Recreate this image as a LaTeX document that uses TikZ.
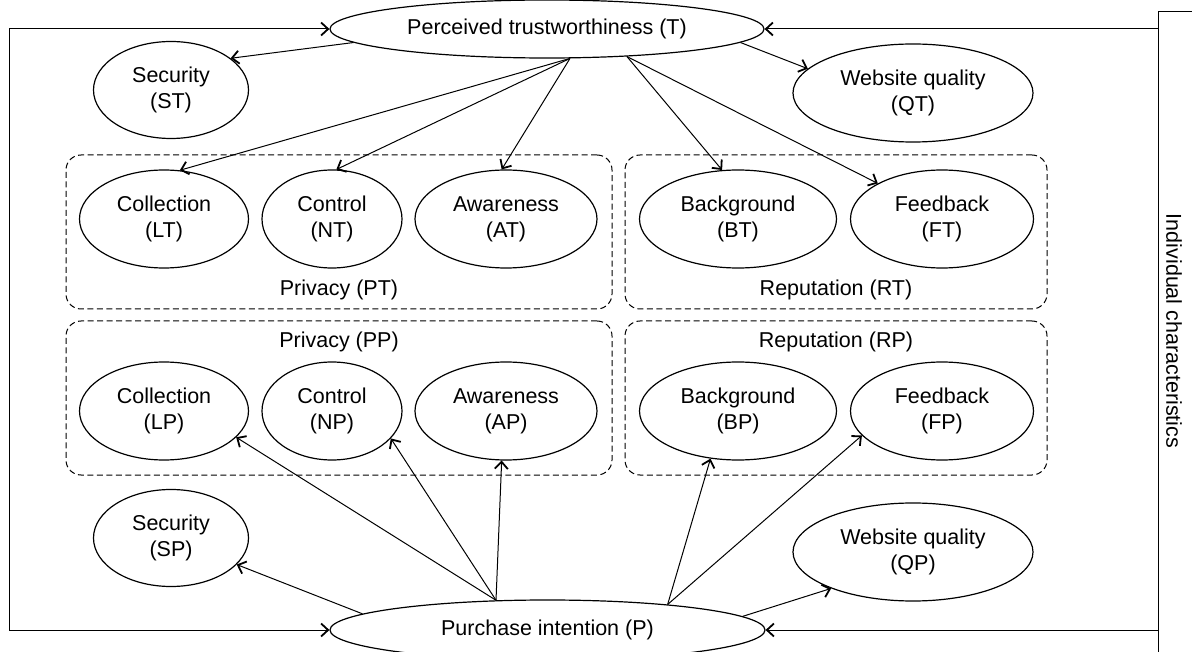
\documentclass[tikz,border=0pt]{standalone}
\usepackage{fontspec}
\setmainfont{Liberation Sans}
\usetikzlibrary{shapes.geometric, arrows.meta, positioning}

\begin{document}
\begin{tikzpicture}[x=1pt, y=-1pt,
    >={Straight Barb[length=7pt,width=13pt,line width=1.8pt]},
    factor/.style={ellipse, draw, line width=1.2pt, inner sep=0pt,
      minimum height=98pt, align=center, font=\fontsize{21.5}{26}\selectfont},
    groupbox/.style={draw, dash pattern=on 6pt off 3.5pt, rounded corners=15pt,
      line width=1pt, minimum height=154pt},
    grouplabel/.style={inner sep=0pt, font=\fontsize{21.5}{26}\selectfont},
    link/.style={->, line width=1pt}]

    % page frame
    \useasboundingbox (0,0) rectangle (1192,652);
    \clip (0,0) rectangle (1192,652);

    % rows of the sub-factors
    \def\rowT{219}
    \def\rowP{411}

    % dashed groups
    \node[groupbox, minimum width=546pt] (boxPT) at (339,232) {};
    \node[groupbox, minimum width=422pt] (boxRT) at (836,232) {};
    \node[groupbox, minimum width=546pt] (boxPP) at (339,398) {};
    \node[groupbox, minimum width=422pt] (boxRP) at (836,398) {};
    \node[grouplabel] (labPT) at ([yshift=20pt]boxPT.south) {Privacy (PT)};
    \node[grouplabel] (labRT) at ([yshift=20pt]boxRT.south) {Reputation (RT)};
    \node[grouplabel] (labPP) at ([yshift=-21pt]boxPP.north) {Privacy (PP)};
    \node[grouplabel] (labRP) at ([yshift=-21pt]boxRP.north) {Reputation (RP)};

    % main constructs
    \node[factor, minimum width=434pt, minimum height=58pt] (T) at (547,29) {Perceived trustworthiness (T)};
    \node[factor, minimum width=435pt, minimum height=60pt] (P) at (547.5,630) {Purchase intention (P)};

    \node[factor, minimum width=155pt, minimum height=97pt] (ST) at (171,90) {Security\\(ST)};
    \node[factor, minimum width=155pt, minimum height=97pt] (SP) at (171,538) {Security\\(SP)};
    \node[factor, minimum width=240pt] (QT) at (913,93) {Website quality\\(QT)};
    \node[factor, minimum width=240pt] (QP) at (913,552) {Website quality\\(QP)};

    \foreach \x/\w/\txt/\id in {164/169/Collection/L, 332/140/Control/N,
        506/182/Awareness/A, 738/197/Background/B, 942/183/Feedback/F} {
      \node[factor, minimum width=\w pt] (\id T) at (\x,\rowT) {\txt\\(\id T)};
      \node[factor, minimum width=\w pt] (\id P) at (\x,\rowP) {\txt\\(\id P)};
    }

    % individual characteristics
    \node[draw, line width=1pt, minimum width=80pt, minimum height=700pt,
      anchor=north west] (IC) at (1158,11) {};
    \node[rotate=-90, grouplabel] (ICtext) at (1174,331) {Individual characteristics};
    \coordinate (rail) at (9,0);

    \draw[link] (T.east -| IC.west) -- (T.east);
    \draw[link] (P.east -| IC.west) -- (P.east);
    \draw[link, <->] (T.west) -- (T.west -| rail) -- (P.west -| rail) -- (P.west);

    % paths from T
    \draw[link] (T.184) -- (ST.28);
    \draw[link] (T.356) -- (QT.167);
    \draw[link] (T.308) -- (LT.72);
    \draw[link] (T.308) -- (NT.85);
    \draw[link] (T.308) -- (AT.95);
    \draw[link] (T.341) -- (BT.108);
    \draw[link] (T.341) -- (FT.151);

    % paths from P
    \draw[link] (P.175) -- (SP.338);
    \draw[link] (P.4) -- (QP.204);
    \draw[link] (P.150) -- (LP.340);
    \draw[link] (P.150) -- (NP.335);
    \draw[link] (P.150) -- (AP.265);
    \draw[link] (P.12) -- (BP.240);
    \draw[link] (P.12) -- (FP.197);

\end{tikzpicture}
\end{document}
